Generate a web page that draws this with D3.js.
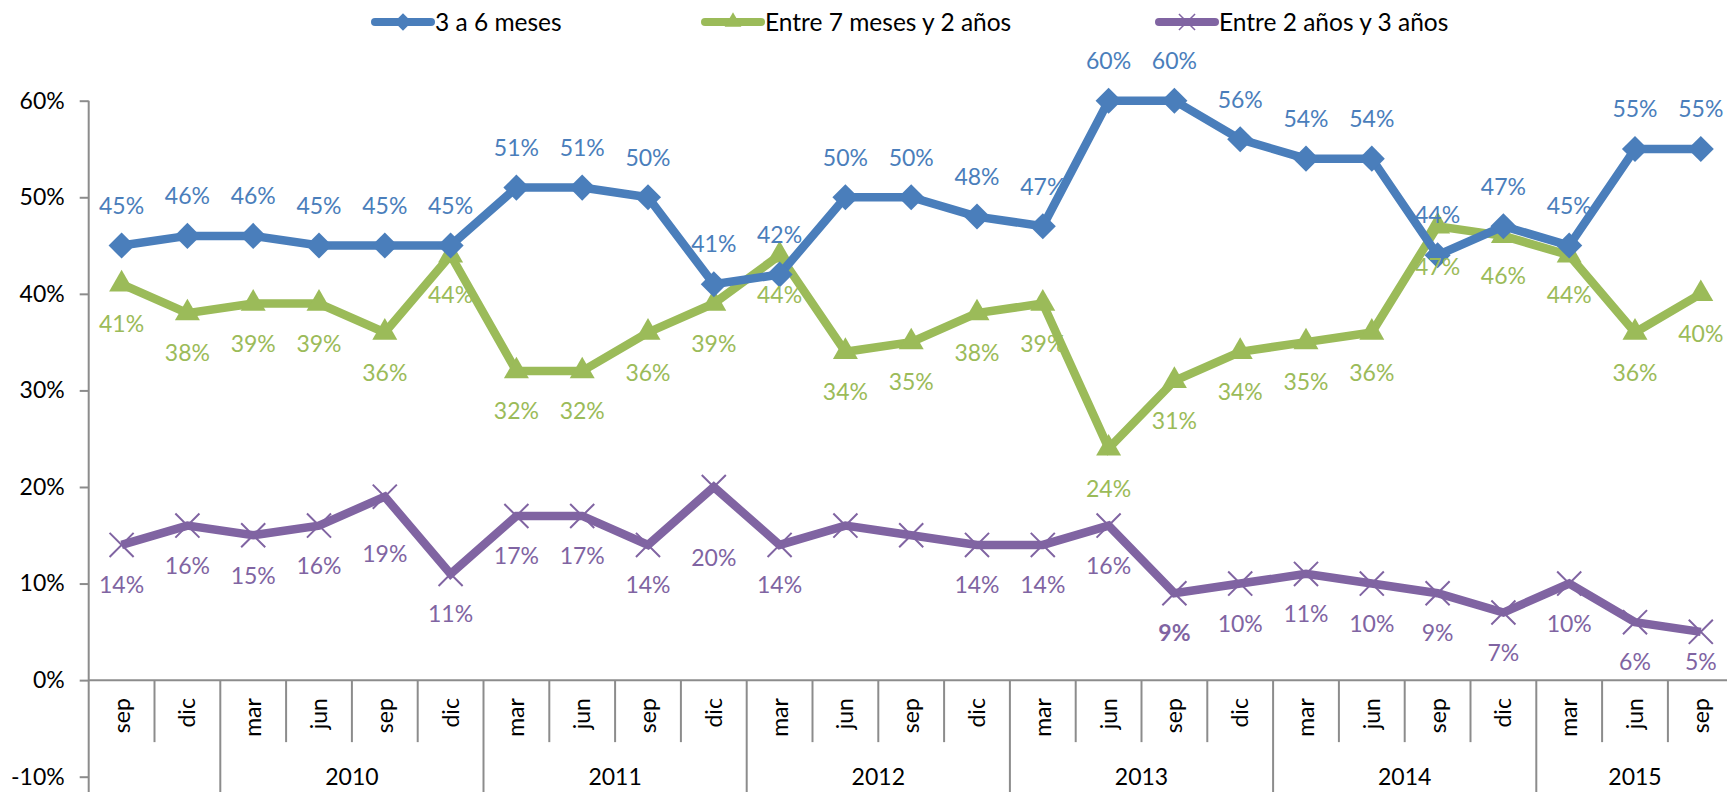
<!DOCTYPE html>
<html>
<head>
<meta charset="utf-8">
<script src="https://cdn.jsdelivr.net/npm/d3@7"></script>
<style>
  body { margin: 0; background: #fff; overflow: hidden; }
  svg { display: block; }
  text { font-family: Lato, "Open Sans", sans-serif; }
</style>
</head>
<body>
<svg width="1727" height="792"></svg>
<script>
// quarters: sep 2009 .. sep 2015
var months = ["sep", "dic", "mar", "jun", "sep", "dic", "mar", "jun", "sep", "dic",
              "mar", "jun", "sep", "dic", "mar", "jun", "sep", "dic", "mar", "jun",
              "sep", "dic", "mar", "jun", "sep"];
var yearLabels = ["", "2010", "2011", "2012", "2013", "2014", "2015"];
var yearCounts = [2, 4, 4, 4, 4, 4, 3];

var seriesNames = ["3 a 6 meses", "Entre 7 meses y 2 años", "Entre 2 años y 3 años"];
var tresASeis = [45, 46, 46, 45, 45, 45, 51, 51, 50, 41, 42, 50, 50, 48, 47, 60, 60, 56, 54, 54, 44, 47, 45, 55, 55];
var sieteMeses = [41, 38, 39, 39, 36, 44, 32, 32, 36, 39, 44, 34, 35, 38, 39, 24, 31, 34, 35, 36, 47, 46, 44, 36, 40];
var dosTres = [14, 16, 15, 16, 19, 11, 17, 17, 14, 20, 14, 16, 15, 14, 14, 16, 9, 10, 11, 10, 9, 7, 10, 6, 5];
var yTicks = [-10, 0, 10, 20, 30, 40, 50, 60];

var svg = d3.select("svg"),
    width = +svg.attr("width"),
    height = +svg.attr("height");

var plotLeft = 88.7, band = 65.8, plotTop = 100.7, plotBottom = 776.7;
var axisColor = "#8c8c8c";
var fs = 23;

var x = d3.scaleBand()
    .domain(d3.range(months.length))
    .range([plotLeft, plotLeft + band * months.length])
    .padding(0);
var y = d3.scaleLinear().domain([-10, 60]).range([plotBottom, plotTop]);

var cx = function(i) { return x(i) + x.bandwidth() / 2; };

// y axis
var yAxis = svg.append("g")
    .attr("transform", "translate(" + plotLeft + ",0)")
    .call(d3.axisLeft(y).tickValues(yTicks).tickSize(9).tickPadding(15)
      .tickFormat(function(d) { return d + "%"; }));
yAxis.select(".domain").remove();
yAxis.selectAll("line").attr("stroke", axisColor).attr("stroke-width", 2);
yAxis.selectAll("text").attr("font-size", fs).attr("fill", "#000")
    .attr("font-family", "Lato, sans-serif");
svg.append("line")
    .attr("x1", plotLeft).attr("x2", plotLeft)
    .attr("y1", y(60)).attr("y2", height)
    .attr("stroke", axisColor).attr("stroke-width", 2);

// category axis
var zeroY = y(0);
svg.append("line")
    .attr("x1", plotLeft).attr("x2", x.range()[1])
    .attr("y1", zeroY).attr("y2", zeroY)
    .attr("stroke", axisColor).attr("stroke-width", 2);

var yearStarts = [];
yearCounts.reduce(function(acc, c) { yearStarts.push(acc); return acc + c; }, 0);

svg.append("g").selectAll("line")
  .data(d3.range(1, months.length + 1))
  .enter().append("line")
    .attr("x1", function(i) { return i < months.length ? x(i) : x.range()[1]; })
    .attr("x2", function(i) { return i < months.length ? x(i) : x.range()[1]; })
    .attr("y1", zeroY)
    .attr("y2", function(i) { return yearStarts.indexOf(i) >= 0 || i === months.length ? height : zeroY + 62; })
    .attr("stroke", axisColor).attr("stroke-width", 2);

svg.append("g").selectAll("text")
  .data(months)
  .enter().append("text")
    .attr("transform", function(d, i) { return "translate(" + (cx(i) + 8) + "," + (zeroY + 18) + ") rotate(-90)"; })
    .attr("text-anchor", "end")
    .attr("font-size", fs)
    .text(function(d) { return d; });

svg.append("g").selectAll("text")
  .data(yearLabels)
  .enter().append("text")
    .attr("x", function(d, i) {
      var a = x(yearStarts[i]), b = a + band * yearCounts[i];
      return (a + b) / 2;
    })
    .attr("y", 785)
    .attr("text-anchor", "middle")
    .attr("font-size", fs)
    .text(function(d) { return d; });

// series
var series = [
  { name: seriesNames[0], values: tresASeis, color: "#4A7EBB", symbol: "diamond", labelPos: "above" },
  { name: seriesNames[1], values: sieteMeses, color: "#9BBB59", symbol: "triangle", labelPos: "below" },
  { name: seriesNames[2], values: dosTres, color: "#8064A2", symbol: "times", labelPos: "below" }
];

// label tweaks for the purple series (moved by hand in the original)
var purpleNudge = { 4: 17, 9: 31, 24: -10 };
var purpleHidden = { 11: true, 12: true };

function markerPath(kind, scale) {
  if (kind === "diamond") return d3.symbol(d3.symbolSquare, 340 * scale)();
  if (kind === "triangle") return d3.symbol(d3.symbolTriangle, 270 * scale)();
  return d3.symbol(d3.symbolTimes, 380 * scale)();
}

var line = d3.line()
    .x(function(d, i) { return cx(i); })
    .y(function(d) { return y(d); });

// draw back to front: purple, green, blue
series.slice().reverse().forEach(function(s) {
  var g = svg.append("g");
  g.append("path")
      .datum(s.values)
      .attr("d", line)
      .attr("fill", "none")
      .attr("stroke", s.color)
      .attr("stroke-width", 8.5)
      .attr("stroke-linejoin", "miter");

  g.selectAll(".mk")
    .data(s.values)
    .enter().append("path")
      .attr("class", "mk")
      .attr("d", markerPath(s.symbol, 1))
      .attr("transform", function(d, i) {
        return "translate(" + cx(i) + "," + y(d) + ")" + (s.symbol === "diamond" ? " rotate(45)" : "");
      })
      .attr("fill", s.symbol === "times" ? "none" : s.color)
      .attr("stroke", s.color)
      .attr("stroke-width", s.symbol === "times" ? 2 : 0);
});

series.forEach(function(s, si) {
  svg.append("g").selectAll("text")
    .data(s.values)
    .enter().append("text")
      .style("display", function(d, i) { return si === 2 && purpleHidden[i] ? "none" : null; })
      .attr("x", function(d, i) { return cx(i); })
      .attr("y", function(d, i) {
        var off = s.labelPos === "above" ? -40 : 40;
        if (si === 2 && purpleNudge[i]) off += purpleNudge[i];
        return y(d) + off;
      })
      .attr("dy", "0.36em")
      .attr("text-anchor", "middle")
      .attr("font-size", fs)
      .attr("font-weight", function(d, i) { return si === 2 && i === 16 ? "bold" : "normal"; })
      .attr("fill", s.color)
      .text(function(d) { return d + "%"; });
});

// legend
var legendX = [375, 705, 1159];
var legend = svg.append("g").selectAll("g")
  .data(series)
  .enter().append("g")
    .attr("transform", function(d, i) { return "translate(" + legendX[i] + ",22)"; });
legend.append("line")
    .attr("x1", 0).attr("x2", 56)
    .attr("stroke", function(d) { return d.color; })
    .attr("stroke-width", 8)
    .attr("stroke-linecap", "round");
legend.append("path")
    .attr("d", function(d) { return markerPath(d.symbol, 0.45); })
    .attr("transform", function(d) { return "translate(28,0)" + (d.symbol === "diamond" ? " rotate(45)" : ""); })
    .attr("fill", function(d) { return d.symbol === "times" ? "none" : d.color; })
    .attr("stroke", function(d) { return d.color; })
    .attr("stroke-width", function(d) { return d.symbol === "times" ? 1.5 : 0; });
legend.append("text")
    .attr("x", 60)
    .attr("dy", "0.36em")
    .attr("font-size", 24.5)
    .text(function(d) { return d.name; });
</script>
</body>
</html>
